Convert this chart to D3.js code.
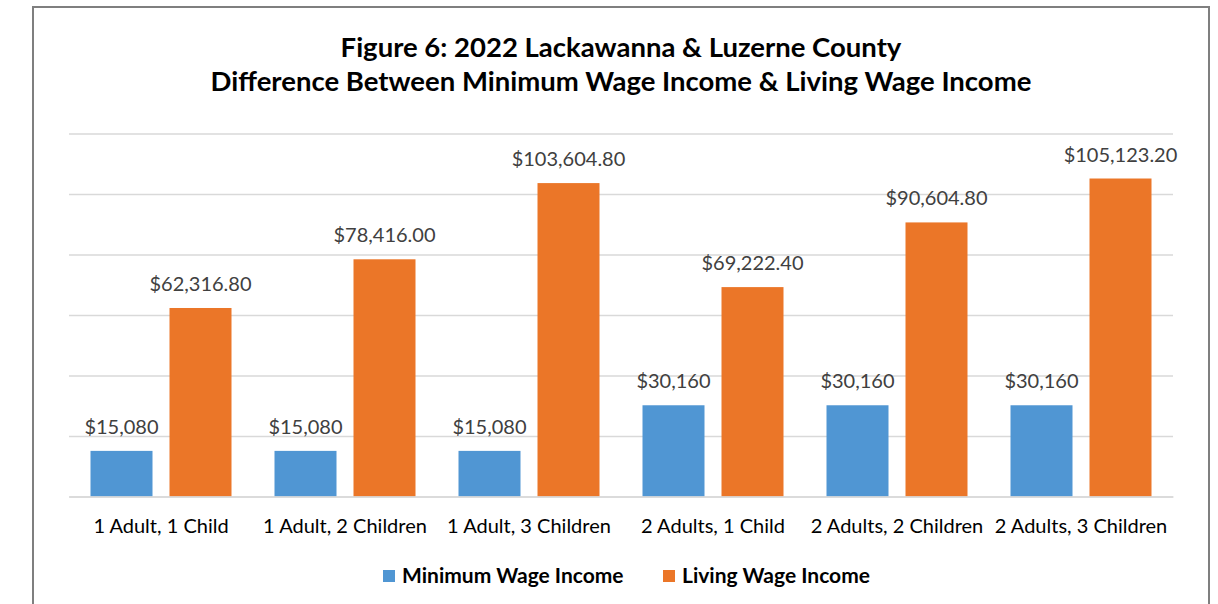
<!DOCTYPE html>
<html>
<head>
<meta charset="utf-8">
<script src="https://cdn.jsdelivr.net/npm/d3@7"></script>
<style>
  html, body { margin: 0; padding: 0; background: #fff; }
  svg { display: block; font-family: Lato, "Open Sans", sans-serif; }
</style>
</head>
<body>
<svg id="chart" width="1218" height="604"></svg>
<script>
const titleLines = ["Figure 6: 2022 Lackawanna & Luzerne County",
                    "Difference Between Minimum Wage Income & Living Wage Income"];
const categories = ["1 Adult, 1 Child", "1 Adult, 2 Children", "1 Adult, 3 Children",
                    "2 Adults, 1 Child", "2 Adults, 2 Children", "2 Adults, 3 Children"];
const seriesNames = ["Minimum Wage Income", "Living Wage Income"];
const minimumWage = [15080, 15080, 15080, 30160, 30160, 30160];
const livingWage = [62316.80, 78416.00, 103604.80, 69222.40, 90604.80, 105123.20];
const yTicks = [0, 20000, 40000, 60000, 80000, 100000, 120000];
const colors = ["#5096D3", "#EB7628"];

const svg = d3.select("#chart");
const plot = {left: 69, right: 1173, top: 133.5, bottom: 496.5};

// outer border
svg.append("rect").attr("x", 33).attr("y", 7).attr("width", 1176).attr("height", 610)
  .attr("fill", "#fff").attr("stroke", "#7f7f7f").attr("stroke-width", 2);

// title
const title = svg.append("text").attr("text-anchor", "middle")
  .attr("font-weight", "bold").attr("font-size", 27.5).attr("fill", "#000");
title.append("tspan").attr("x", 621).attr("y", 57).text(titleLines[0]);
title.append("tspan").attr("x", 621).attr("y", 91).text(titleLines[1]);

const x0 = d3.scaleBand().domain(categories).range([plot.left, plot.right]).paddingInner(0).paddingOuter(0);
const x1 = d3.scaleBand().domain(seriesNames).range([21.5, x0.bandwidth() - 21.5]).paddingInner(17 / 79).paddingOuter(0);
const y = d3.scaleLinear().domain([0, 120000]).range([plot.bottom, plot.top]);

// gridlines via axis
const grid = svg.append("g").attr("transform", `translate(${plot.left},0)`)
  .call(d3.axisLeft(y).tickValues(yTicks).tickSize(-(plot.right - plot.left)).tickFormat(""));
grid.select(".domain").remove();
grid.selectAll(".tick line").attr("stroke", "#d9d9d9").attr("stroke-width", 1.3);

const data = categories.map((c, i) => ({cat: c, vals: [
  {s: seriesNames[0], v: minimumWage[i], label: "$" + d3.format(",.0f")(minimumWage[i])},
  {s: seriesNames[1], v: livingWage[i], label: "$" + d3.format(",.2f")(livingWage[i])}
]}));

const groups = svg.append("g").selectAll("g").data(data).join("g")
  .attr("transform", d => `translate(${x0(d.cat)},0)`);

groups.selectAll("rect").data(d => d.vals).join("rect")
  .attr("x", d => x1(d.s)).attr("width", x1.bandwidth())
  .attr("y", d => y(d.v)).attr("height", d => y(0) - y(d.v))
  .attr("fill", (d, i) => colors[i]);

groups.selectAll("text.lbl").data(d => d.vals).join("text").attr("class", "lbl")
  .attr("x", d => x1(d.s) + x1.bandwidth() / 2).attr("y", d => y(d.v) - 17)
  .attr("text-anchor", "middle").attr("font-size", 20).attr("fill", "#404040")
  .text(d => d.label);

// x axis labels
const xa = svg.append("g").attr("transform", `translate(0,${plot.bottom})`)
  .call(d3.axisBottom(x0).tickSize(0).tickPadding(22));
xa.select(".domain").attr("stroke", "#d9d9d9").attr("stroke-width", 1.3);
xa.selectAll("text").attr("font-size", 20).attr("fill", "#000").attr("font-family", "Lato, sans-serif");

// legend
const legendX = [383, 663];
const lg = svg.append("g").selectAll("g").data(seriesNames).join("g")
  .attr("transform", (d, i) => `translate(${legendX[i]},570)`);
lg.append("rect").attr("width", 12).attr("height", 12).attr("fill", (d, i) => colors[i]);
lg.append("text").attr("x", 19).attr("y", 13).attr("font-size", 21).attr("font-weight", "bold")
  .attr("fill", "#000").text(d => d);
</script>
</body>
</html>
